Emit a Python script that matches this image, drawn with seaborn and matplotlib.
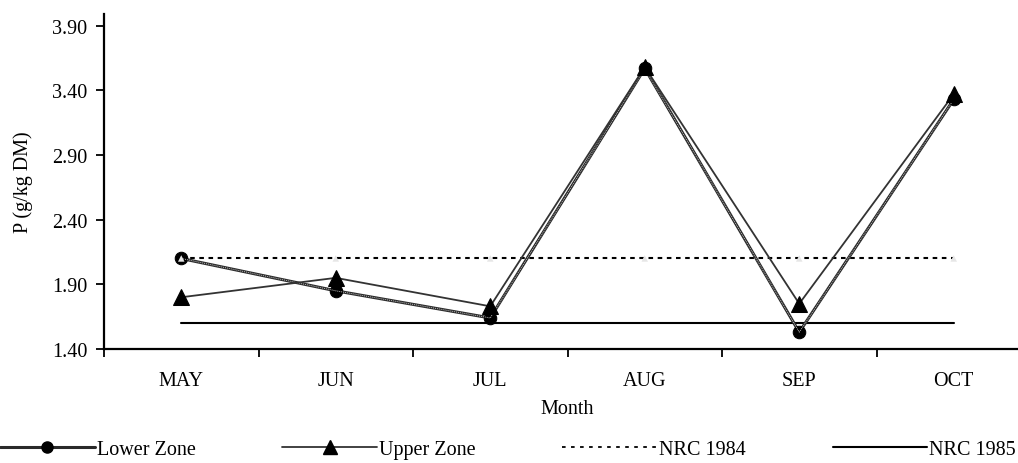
import matplotlib
matplotlib.use("Agg")
import matplotlib.pyplot as plt
import seaborn as sns
import numpy as np
import pandas as pd
from matplotlib.lines import Line2D

months = ["MAY", "JUN", "JUL", "AUG", "SEP", "OCT"]
lower_zone = [2.10, 1.85, 1.64, 3.57, 1.53, 3.33]
upper_zone = [1.80, 1.95, 1.73, 3.58, 1.75, 3.37]
nrc_1984 = [2.10, 2.10, 2.10, 2.10, 2.10, 2.10]
nrc_1985 = [1.60, 1.60, 1.60, 1.60, 1.60, 1.60]
y_ticks = [1.40, 1.90, 2.40, 2.90, 3.40, 3.90]

sns.set_theme(style="white")
plt.rcParams['font.family'] = ['Liberation Serif', 'DejaVu Serif']

FS = 14.5

fig = plt.figure(figsize=(10.18, 4.64), dpi=100)
ax = fig.add_axes([104/1018, 114/464, 927/1018, 335/464])

df = pd.DataFrame({"Month": months, "Lower Zone": lower_zone, "Upper Zone": upper_zone,
                   "NRC 1984": nrc_1984, "NRC 1985": nrc_1985})

sns.lineplot(data=df, x="Month", y="NRC 1985", ax=ax, color="black", lw=1.5, sort=False)
sns.lineplot(data=df, x="Month", y="NRC 1984", ax=ax, color="black", lw=1.5,
             linestyle=(0, (2.2, 2.2)), sort=False)
sns.lineplot(data=df, x="Month", y="Lower Zone", ax=ax, color="#2a2a2a", lw=2.2,
             marker="o", markersize=9, markerfacecolor="black", markeredgecolor="black", sort=False)
sns.lineplot(data=df, x="Month", y="Lower Zone", ax=ax, color="#bdbdbd", lw=0.7,
             linestyle=(0, (1, 1)), sort=False)
sns.lineplot(data=df, x="Month", y="Upper Zone", ax=ax, color="#333333", lw=1.3,
             marker="^", markersize=11, markerfacecolor="black", markeredgecolor="black", sort=False)
# faint markers of the reference series
sns.scatterplot(data=df, x="Month", y="NRC 1984", ax=ax, marker="^", s=22, color="#e6e6e6",
                edgecolor="none", zorder=5)

ax.set_xlim(-0.5, 5.5)
ax.set_ylim(1.40, 3.99)
ax.set_yticks(y_ticks)
ax.set_yticklabels([f"{v:.2f}" for v in y_ticks])
ax.set_xticks(range(len(months)))
ax.set_xticklabels(months)
ax.set_xticks(np.arange(-0.5, 5.6, 1.0), minor=True)
ax.tick_params(axis="x", which="major", bottom=True, length=0, pad=16, labelsize=FS, labelcolor="black")
ax.tick_params(axis="x", which="minor", bottom=True, length=6, width=1.3, direction="out", color="black")
ax.tick_params(axis="y", left=True, length=6, width=1.3, direction="out", labelsize=FS, pad=6,
               color="black", labelcolor="black")

for s in ["top", "right"]:
    ax.spines[s].set_visible(False)
for s in ["left", "bottom"]:
    ax.spines[s].set_color("black")
    ax.spines[s].set_linewidth(1.6)

ax.set_xlabel("Month", fontsize=FS, color="black", labelpad=6)
ax.set_ylabel("P (g/kg DM)", fontsize=FS, color="black", labelpad=14)
ax.grid(False)

handles = [
    Line2D([], [], color="#2a2a2a", lw=2.2, marker="o", markersize=8, markerfacecolor="black", markeredgecolor="black"),
    Line2D([], [], color="#333333", lw=1.3, marker="^", markersize=10, markerfacecolor="black", markeredgecolor="black"),
    Line2D([], [], color="black", lw=1.3, linestyle=(0, (2, 3))),
    Line2D([], [], color="black", lw=1.5),
]
labels = ["Lower Zone", "Upper Zone", "NRC 1984", "NRC 1985"]
fig.legend(handles, labels, loc="lower left", bbox_to_anchor=(-0.004, 0.0, 1.006, 0.07),
           mode="expand", ncol=4, frameon=False, fontsize=FS, handlelength=4.7,
           handletextpad=0.1, borderaxespad=0.0, borderpad=0.2, labelcolor="black")

fig.savefig("out.png", dpi=100)
